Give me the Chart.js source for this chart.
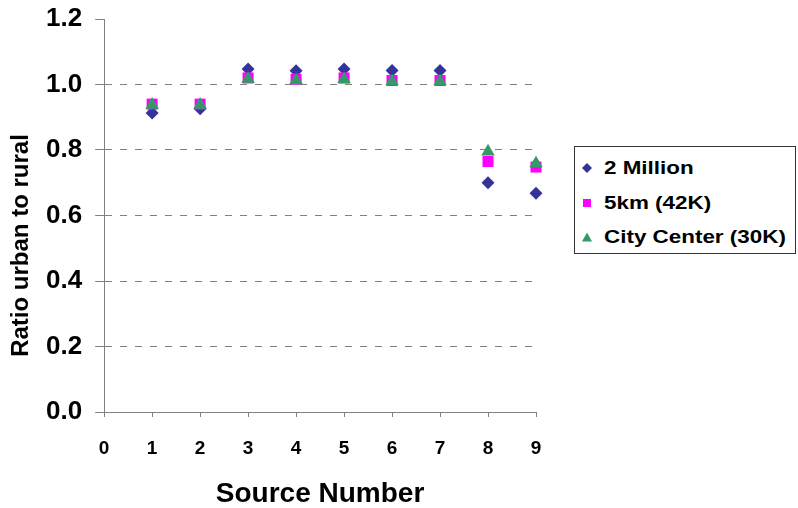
<!DOCTYPE html>
<html>
<head>
<meta charset="utf-8">
<script src="https://cdn.jsdelivr.net/npm/chart.js@4/dist/chart.umd.min.js"></script>
<style>
  html, body { margin: 0; padding: 0; background: #fff; }
  #wrap { position: relative; width: 798px; height: 508px; }
  #legend {
    position: absolute; left: 574px; top: 146px; width: 220px; height: 106px;
    border: 1px solid #333; background: #fff;
    font-family: 'Liberation Sans', Arial, sans-serif; font-weight: bold; font-size: 19px; color: #000;
  }
  #legend .item { position: absolute; left: 0; height: 22px; line-height: 22px; white-space: nowrap; }
  #legend svg { position: absolute; left: 7px; top: 6px; }
  #legend span { position: absolute; left: 29px; top: 0; transform: scaleX(1.18); transform-origin: 0 50%; }
</style>
</head>
<body>
<div id="wrap">
  <canvas id="chart" width="798" height="508"></canvas>
  <div id="legend"></div>
</div>
<script>
// Source numbers on the x axis
const sourceNumbers = [1, 2, 3, 4, 5, 6, 7, 8, 9];

// Ratio urban to rural
const twoMillion = [0.913, 0.926, 1.047, 1.042, 1.047, 1.043, 1.043, 0.700, 0.668];
const fiveKm = [0.940, 0.940, 1.020, 1.016, 1.020, 1.012, 1.012, 0.765, 0.748];
const cityCenter = [0.938, 0.938, 1.017, 1.013, 1.016, 1.010, 1.010, 0.795, 0.759];

const seriesNames = ['2 Million', '5km (42K)', 'City Center (30K)'];
const yTicks = [0, 0.2, 0.4, 0.6, 0.8, 1.0, 1.2];
const xTicks = [0, 1, 2, 3, 4, 5, 6, 7, 8, 9];

const FONT = "'Liberation Sans', Arial, sans-serif";
const AXIS_GREY = '#808080';

function toPoints(values) {
  return values.map((v, i) => ({ x: sourceNumbers[i], y: v }));
}

// little marker shapes for the html legend
const legendMarks = {
  rectRot: c => `<polygon points="5,0 10,5 5,10 0,5" fill="${c}"/>`,
  rect: c => `<rect x="1" y="1" width="8" height="8" fill="${c}"/>`,
  triangle: c => `<polygon points="5,0.5 10,9.5 0,9.5" fill="${c}"/>`
};

const chart = new Chart(document.getElementById('chart'), {
  type: 'scatter',
  data: {
    datasets: [
      {
        label: seriesNames[0],
        data: toPoints(twoMillion),
        pointStyle: 'rectRot',
        pointRadius: 6.5,
        backgroundColor: '#333399',
        borderColor: '#333399',
        borderWidth: 0,
        order: 2,
        clip: false
      },
      {
        label: seriesNames[1],
        data: toPoints(fiveKm),
        pointStyle: 'rect',
        pointRadius: 7.8,
        backgroundColor: '#FF00FF',
        borderColor: '#FF00FF',
        borderWidth: 0,
        order: 1,
        clip: false
      },
      {
        label: seriesNames[2],
        data: toPoints(cityCenter),
        pointStyle: 'triangle',
        pointRadius: 7.8,
        backgroundColor: '#339966',
        borderColor: '#339966',
        borderWidth: 0,
        order: 0,
        clip: false
      }
    ]
  },
  options: {
    responsive: false,
    animation: false,
    layout: { padding: { top: 19, right: 262, bottom: 0, left: 0 } },
    plugins: {
      tooltip: { enabled: false },
      legend: { display: false }
    },
    scales: {
      x: {
        type: 'linear',
        min: 0,
        max: 9,
        afterBuildTicks: s => { s.ticks = xTicks.map(v => ({ value: v })); },
        ticks: {
          color: '#000',
          padding: 22,
          font: { family: FONT, size: 19, weight: 'bold', lineHeight: 1 }
        },
        grid: {
          drawOnChartArea: false,
          tickLength: 5,
          tickColor: AXIS_GREY
        },
        border: { color: AXIS_GREY, width: 1 },
        title: {
          display: true,
          text: 'Source Number',
          color: '#000',
          font: { family: FONT, size: 28, weight: 'bold', lineHeight: 1 },
          padding: { top: 0, bottom: 0 }
        }
      },
      y: {
        min: 0,
        max: 1.2,
        afterBuildTicks: s => { s.ticks = yTicks.map(v => ({ value: v })); },
        // plot top is set by the layout padding, not by the label height
        afterFit: s => { s.paddingTop = 0; s.paddingBottom = 0; },
        ticks: {
          color: '#000',
          padding: 13,
          font: { family: FONT, size: 26, weight: 'bold' },
          callback: v => v.toFixed(1)
        },
        grid: {
          color: ctx => (ctx.tick && (ctx.tick.value === 0 || ctx.tick.value > 1.1)) ? 'rgba(0,0,0,0)' : AXIS_GREY,
          tickLength: 9,
          tickColor: AXIS_GREY
        },
        border: { color: AXIS_GREY, width: 1, dash: [7, 8] },
        title: {
          display: true,
          // trailing spaces push the title a bit lower, like the original
          text: 'Ratio urban to rural         ',
          color: '#000',
          font: { family: FONT, size: 24, weight: 'bold', lineHeight: 1 },
          padding: { top: 9, bottom: 0 }
        }
      }
    }
  }
});

// html legend built from the chart's own datasets
const legendEl = document.getElementById('legend');
const rowTops = [10, 45, 79];
legendEl.innerHTML = chart.data.datasets.map((ds, i) => `
  <div class="item" style="top:${rowTops[i]}px">
    <svg width="10" height="10" viewBox="0 0 10 10">${legendMarks[ds.pointStyle](ds.backgroundColor)}</svg>
    <span>${ds.label}</span>
  </div>`).join('');
</script>
</body>
</html>
